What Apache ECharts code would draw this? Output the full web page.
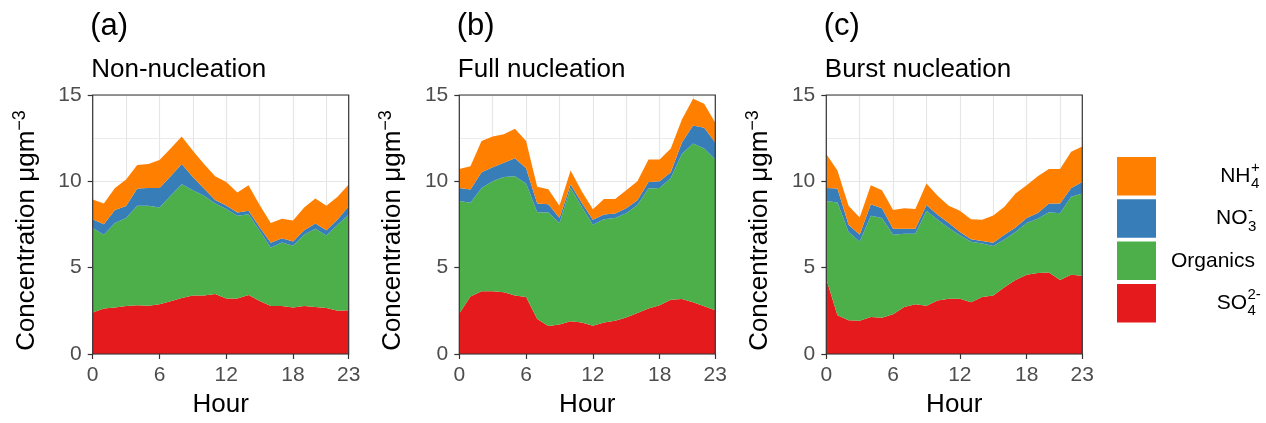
<!DOCTYPE html>
<html>
<head>
<meta charset="utf-8">
<script src="https://cdn.jsdelivr.net/npm/echarts@6/dist/echarts.min.js"></script>
<style>html,body{margin:0;padding:0;background:#fff;}#c{width:1266px;height:423px;}</style>
</head>
<body>
<div id="c"></div>
<script>
// ---------- data ----------
const hours = ['0','1','2','3','4','5','6','7','8','9','10','11','12','13','14','15','16','17','18','19','20','21','22','23'];
const panelTags = ['(a)', '(b)', '(c)'];
const panelTitles = ['Non-nucleation', 'Full nucleation', 'Burst nucleation'];
const yTicks = [0, 5, 10, 15];

const a_SO4 = [2.40,2.63,2.69,2.78,2.82,2.80,2.88,3.05,3.24,3.39,3.39,3.47,3.22,3.22,3.41,3.07,2.78,2.78,2.69,2.78,2.72,2.67,2.50,2.53];
const a_Org = [4.90,4.28,4.89,5.09,5.77,5.79,5.60,6.11,6.59,6.10,5.77,5.25,5.18,4.78,4.69,4.07,3.37,3.68,3.58,4.13,4.54,4.19,4.99,5.53];
const a_NO3 = [0.51,0.61,0.76,0.70,0.99,1.03,1.14,1.14,1.17,0.76,0.42,0.20,0.20,0.20,0.20,0.20,0.30,0.25,0.25,0.25,0.30,0.30,0.30,0.50];
const a_NH4 = [1.14,1.20,1.28,1.54,1.37,1.38,1.62,1.60,1.59,1.52,1.42,1.38,1.36,1.15,1.47,1.29,1.13,1.12,1.21,1.32,1.44,1.43,1.31,1.25];

const b_SO4 = [2.34,3.33,3.64,3.64,3.58,3.39,3.30,2.02,1.62,1.71,1.90,1.83,1.64,1.83,1.92,2.11,2.38,2.63,2.82,3.14,3.18,3.00,2.76,2.53];
const b_Org = [6.52,5.43,5.98,6.36,6.67,6.90,6.57,6.19,6.57,5.87,7.72,6.70,5.85,5.98,5.95,6.04,6.25,6.95,6.80,7.05,8.40,9.19,9.14,8.73];
const b_NO3 = [0.76,0.76,0.91,0.82,0.82,1.04,0.89,0.51,0.48,0.29,0.20,0.23,0.28,0.27,0.26,0.29,0.28,0.38,0.38,0.34,0.67,1.05,1.20,0.99];
const b_NH4 = [1.10,1.36,1.81,1.77,1.65,1.72,1.58,0.96,0.87,0.72,0.81,0.67,0.61,0.89,0.84,1.05,1.09,1.30,1.26,1.37,1.33,1.54,1.40,1.14];

const c_SO4 = [4.34,2.25,1.96,1.92,2.15,2.10,2.30,2.72,2.88,2.80,3.10,3.20,3.20,3.00,3.30,3.39,3.87,4.29,4.59,4.69,4.72,4.29,4.59,4.53];
const c_Org = [4.52,6.53,5.11,4.58,5.85,5.77,4.61,4.25,4.09,5.49,4.67,4.10,3.68,3.50,3.10,2.86,2.76,2.78,2.99,3.14,3.49,3.86,4.51,4.77];
const c_NO3 = [0.76,0.80,0.42,0.41,0.67,0.57,0.35,0.29,0.29,0.34,0.29,0.28,0.19,0.15,0.15,0.19,0.28,0.26,0.29,0.34,0.51,0.57,0.52,0.66];
const c_NH4 = [1.96,1.05,1.10,0.99,1.10,1.05,1.08,1.18,1.14,1.24,1.10,1.01,1.22,1.16,1.22,1.58,1.62,1.97,1.90,2.13,2.00,2.00,2.09,2.06];

// stack order bottom -> top
const speciesNames = ['SO4', 'Organics', 'NO3', 'NH4'];
const speciesColors = ['#E41A1C', '#4DAF4A', '#377EB8', '#FF7F00'];
const panelData = [
  [a_SO4, a_Org, a_NO3, a_NH4],
  [b_SO4, b_Org, b_NO3, b_NH4],
  [c_SO4, c_Org, c_NO3, c_NH4]
];
// legend labels, top -> bottom: [main, superscript, subscript, species index]
const legendLabels = [
  ['NH', '+', '4', 3],
  ['NO', '-', '3', 2],
  ['Organics', '', '', 1],
  ['SO', '2-', '4', 0]
];

// ---------- layout ----------
const FONT = "'Liberation Sans', Arial, Helvetica, sans-serif";
const gridLefts = [92.7, 459.3, 826.3];
const GRID_TOP = 95, GRID_W = 256, GRID_H = 263;

const grids = [], xAxes = [], yAxes = [], series = [], titles = [];
gridLefts.forEach((left, p) => {
  grids.push({
    left: left, top: GRID_TOP, width: GRID_W, height: GRID_H,
    show: true, z: 10, borderColor: '#333333', borderWidth: 1.2,
    backgroundColor: 'transparent', containLabel: false
  });
  xAxes.push({
    type: 'category', gridIndex: p, data: hours, boundaryGap: false,
    name: 'Hour', nameLocation: 'middle', nameGap: 38,
    nameTextStyle: { fontSize: 26, color: '#000', fontFamily: FONT },
    axisLine: { show: false },
    axisTick: { show: true, length: 5, lineStyle: { color: '#333', width: 1.2 },
      interval: (i) => i % 6 === 0 || i === 23 },
    axisLabel: { fontSize: 21, color: '#4D4D4D', fontFamily: FONT, margin: 11,
      interval: (i) => i % 6 === 0 || i === 23 },
    splitLine: { show: true, interval: (i) => i % 3 === 0,
      lineStyle: { color: '#E6E6E6', width: 1.2 } }
  });
  yAxes.push({
    type: 'value', gridIndex: p, min: yTicks[0], max: yTicks[yTicks.length - 1], interval: 5,
    name: '{m|Concentration μgm}{s|−3}', nameLocation: 'middle', nameGap: 50, nameRotate: 90,
    nameTextStyle: { fontSize: 26, color: '#000', fontFamily: FONT, padding: [0, 12, 0, 0],
      rich: {
        m: { fontSize: 26, color: '#000', fontFamily: FONT, lineHeight: 32 },
        s: { fontSize: 18, color: '#000', fontFamily: FONT, verticalAlign: 'top', lineHeight: 16 }
      } },
    axisLine: { show: false },
    axisTick: { show: true, length: 5, lineStyle: { color: '#333', width: 1.2 } },
    axisLabel: { fontSize: 21, color: '#4D4D4D', fontFamily: FONT, margin: 11 },
    splitLine: { show: true, lineStyle: { color: '#E6E6E6', width: 1.2 } },
    minorTick: { show: false, splitNumber: 2 },
    minorSplitLine: { show: true, lineStyle: { color: '#ECECEC', width: 1 } }
  });
  panelData[p].forEach((vals, k) => {
    series.push({
      name: speciesNames[k], type: 'line', xAxisIndex: p, yAxisIndex: p,
      stack: 'panel' + p, data: vals, symbol: 'none', silent: true,
      lineStyle: { width: 0 }, areaStyle: { color: speciesColors[k], opacity: 1 },
      z: 2 + k * 0.01
    });
  });
  titles.push({
    text: panelTags[p], left: left - 2.5, top: 11,
    textStyle: { fontSize: 31, fontWeight: 'normal', color: '#000', fontFamily: FONT }, padding: 0
  });
  titles.push({
    text: panelTitles[p], left: left - 1.5, top: 57,
    textStyle: { fontSize: 26, fontWeight: 'normal', color: '#000', fontFamily: FONT }, padding: 0
  });
});

// legend drawn as graphic keys
const graphic = [];
const KEY_X = 1117, KEY_W = 39, KEY_H = 38.5, KEY_Y0 = 157, KEY_STEP = 42.3;
const LABEL_RIGHT = [1250.5, 1247.5, 1255, 1247];
legendLabels.forEach((lab, i) => {
  const y = KEY_Y0 + i * KEY_STEP;
  const cy = y + KEY_H / 2;
  graphic.push({ type: 'rect', shape: { x: KEY_X, y: y, width: KEY_W, height: KEY_H },
    style: { fill: speciesColors[lab[3]] }, silent: true });
  graphic.push({ type: 'text', x: LABEL_RIGHT[i], y: cy,
    style: { text: lab[0], fontSize: 21, fontFamily: FONT, fill: '#000', align: 'right', verticalAlign: 'middle' } });
  if (lab[1]) graphic.push({ type: 'text', x: LABEL_RIGHT[i] + 0.5, y: cy - 8,
    style: { text: lab[1], fontSize: 15, fontFamily: FONT, fill: '#000', align: 'left', verticalAlign: 'middle' } });
  if (lab[2]) graphic.push({ type: 'text', x: LABEL_RIGHT[i] + 0.5, y: cy + 8,
    style: { text: lab[2], fontSize: 15, fontFamily: FONT, fill: '#000', align: 'left', verticalAlign: 'middle' } });
});

const chart = echarts.init(document.getElementById('c'), null, { renderer: 'canvas' });
chart.setOption({
  backgroundColor: '#ffffff',
  animation: false,
  textStyle: { fontFamily: FONT },
  title: titles,
  grid: grids,
  xAxis: xAxes,
  yAxis: yAxes,
  series: series,
  graphic: graphic
});
</script>
</body>
</html>
